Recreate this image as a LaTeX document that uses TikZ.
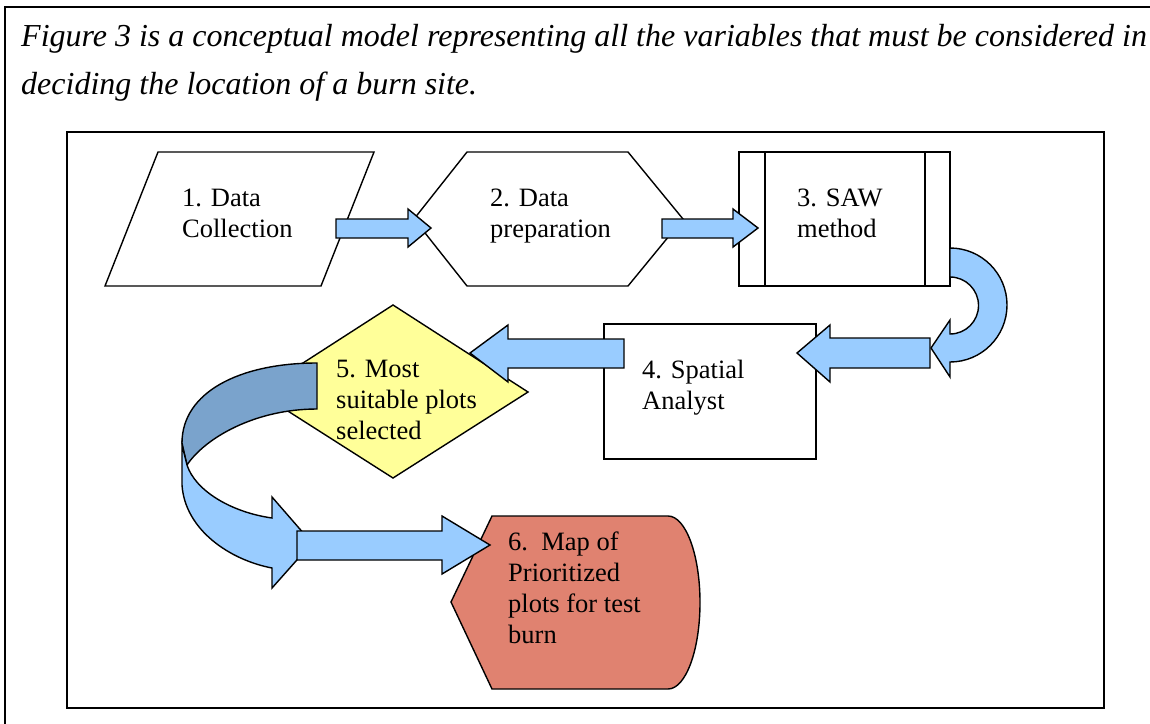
\documentclass[tikz,border=0pt]{standalone}
\usepackage{fontspec}
\setmainfont{Liberation Serif}
\definecolor{arrowblue}{RGB}{153,204,255}
\definecolor{arrowdark}{RGB}{122,163,204}
\definecolor{plotyellow}{RGB}{255,255,153}
\definecolor{mapred}{RGB}{224,130,112}
\tikzset{
    shapeline/.style={draw=black, line width=1.4pt, line join=miter},
    blockarrow/.style={draw=black, line width=1.4pt, fill=arrowblue, line join=miter},
    lbl/.style={font=\fontsize{26.5}{31}\selectfont, align=left, inner sep=0pt, anchor=base west},
}
\begin{document}
\begin{tikzpicture}[x=1pt,y=-1pt]
    \useasboundingbox (0,0) rectangle (1150,723);

    % frames
    \draw[line width=2.5pt] (5,740) -- (5,7) -- (1170,7);
    \draw[line width=2pt] (67,132) rectangle (1104,708);

    % base of a multi-line node is its last line
    \node[font=\fontsize{32}{48}\selectfont\itshape, align=left, inner sep=0pt, anchor=base west] (caption) at (21,94)
        {Figure 3 is a conceptual model representing all the variables that must be considered in\\deciding the location of a burn site.};

    % shapes
    \draw[shapeline] (158,152) -- (374,152) -- (321,286) -- (105,286) -- cycle;
    \draw[shapeline] (467,152) -- (628,152) -- (683,219) -- (628,286) -- (467,286) -- (414,219) -- cycle;
    \draw[shapeline] (739,152) rectangle (950,286);
    \draw[shapeline] (765,152) -- (765,286);
    \draw[shapeline] (925,152) -- (925,286);
    \draw[shapeline] (604,324) rectangle (816,459);
    \draw[shapeline, fill=plotyellow] (393,305) -- (528,392) -- (393,478) -- (258,392) -- cycle;
    \draw[shapeline, fill=mapred] (492,516) -- (668,516) arc[start angle=-90, end angle=90, x radius=32, y radius=86.5]
        -- (492,689) -- (451,602) -- cycle;

    % arrows
    \draw[blockarrow] (336,219) -- (408,219) -- (408,209) -- (431,228) -- (408,247) -- (408,238) -- (336,238) -- cycle;
    \draw[blockarrow] (662,219) -- (733,219) -- (733,209) -- (758,228) -- (733,247) -- (733,238) -- (662,238) -- cycle;
    \draw[blockarrow] (950,248) arc[start angle=-90, end angle=90, radius=57] -- (950,377) -- (931,348) -- (950,320)
        -- (950,334) arc[start angle=90, end angle=-90, radius=28.5] -- cycle;
    \draw[blockarrow] (930,338) -- (830,338) -- (830,325) -- (797,353) -- (830,382) -- (830,368) -- (930,368) -- cycle;
    \draw[blockarrow] (624,339) -- (508,339) -- (508,325) -- (470,353) -- (508,382) -- (508,368) -- (624,368) -- cycle;
    \draw[blockarrow, fill=arrowdark] (317,363) .. controls (240,363) and (182,392) .. (182,443)
        -- (187,465) .. controls (205,438) and (255,409) .. (317,409) -- cycle;
    \draw[blockarrow] (182,445) -- (182,485) .. controls (185,530) and (230,560) .. (272,568) -- (272,588) -- (312,543)
        -- (272,497) -- (272,518) .. controls (230,512) and (195,490) .. (187,465) -- cycle;
    \draw[blockarrow] (297,531) -- (442,531) -- (442,516) -- (490,545) -- (442,574) -- (442,560) -- (297,560) -- cycle;

    % labels
    \node[lbl] (data) at (182,237) {1. Data\\Collection};
    \node[lbl] (prep) at (490,237) {2. Data\\preparation};
    \node[lbl] (saw) at (797,237) {3. SAW\\method};
    \node[lbl] (spatial) at (642,409) {4. Spatial\\Analyst};
    \node[lbl] (plots) at (336,439) {5. Most\\suitable plots\\selected};
    \node[lbl] (map) at (508,643) {6.\ \ Map of\\Prioritized\\plots for test\\burn};
\end{tikzpicture}
\end{document}
